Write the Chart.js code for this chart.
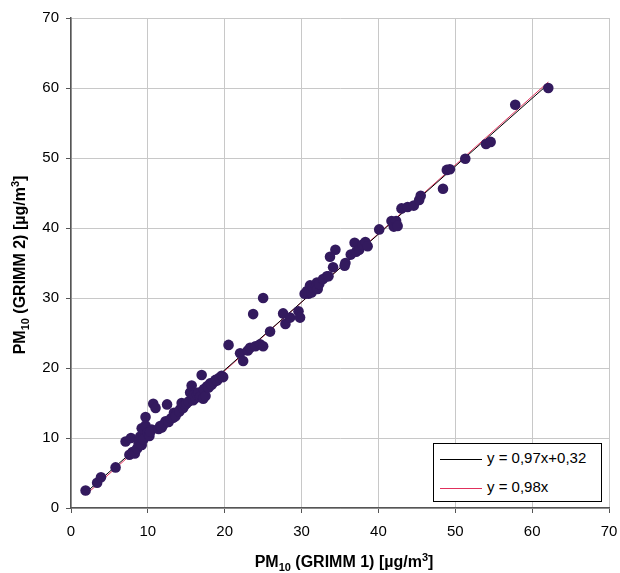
<!DOCTYPE html>
<html>
<head>
<meta charset="utf-8">
<script src="https://cdn.jsdelivr.net/npm/chart.js@4/dist/chart.umd.min.js"></script>
<style>
  body { margin: 0; background: #fff; }
  .wrap { position: relative; width: 620px; height: 573px; }
  .legend {
    position: absolute; left: 433px; top: 443px; width: 167px; height: 57px;
    border: 1px solid #000; background: #fff;
    font-family: 'Liberation Sans', Arial, sans-serif; font-size: 15px; color: #000;
  }
  .legend .item { position: absolute; left: 6px; height: 18px; line-height: 18px; white-space: nowrap; }
  .legend .swatch { display: inline-block; width: 42px; height: 0; vertical-align: middle; margin-right: 5px; }
</style>
</head>
<body>
<div class="wrap">
  <canvas id="grafico" width="620" height="573"></canvas>
  <div class="legend" id="legenda"></div>
</div>
<script>
  // GRIMM 1 (x) vs GRIMM 2 (y), PM10 in µg/m3
  const grimm1 = [1.9,3.4,3.9,5.8,7.1,7.8,7.6,8.0,8.3,8.6,8.8,9.2,9.0,9.4,9.2,9.7,9.7,10.0,10.2,10.5,
    10.3,10.7,11.0,11.4,11.6,11.8,12.3,12.0,12.5,12.7,13.0,13.3,13.4,13.8,13.6,14.2,14.4,14.1,14.6,14.8,
    15.0,15.3,15.5,15.7,15.9,16.2,16.0,16.4,16.6,16.8,17.0,17.2,17.3,17.5,17.7,17.9,18.1,18.3,18.6,18.8,
    19.0,19.3,19.6,19.8,20.5,22.0,22.4,23.0,23.3,23.7,24.0,24.6,25.0,25.0,25.9,27.6,27.9,28.5,29.6,29.8,
    30.4,30.7,30.9,31.1,31.3,31.5,32.0,31.9,32.1,32.3,32.8,33.3,33.5,34.1,34.4,33.7,35.7,35.6,36.4,36.9,
    37.1,37.5,37.9,38.3,38.6,40.1,41.7,42.0,42.3,42.5,43.0,43.8,44.6,45.3,45.5,48.4,48.9,49.3,51.3,54.0,
    54.6,57.8,62.1]
  const grimm2 = [2.5,3.6,4.4,5.8,9.5,10.0,7.6,8.0,7.8,8.5,9.2,9.0,10.2,9.8,11.4,11.8,13.0,10.8,10.3,11.2,
    10.9,14.9,14.3,11.3,11.7,11.5,12.4,11.9,14.8,12.3,12.8,12.9,13.6,13.6,13.1,14.1,15.0,13.8,14.3,14.7,
    14.9,15.2,16.5,17.5,15.4,15.7,16.1,16.2,16.5,15.9,19.0,15.6,17.0,16.0,17.4,17.2,17.8,17.6,18.0,18.3,
    18.2,18.6,18.9,18.7,23.3,22.1,21.0,22.5,22.9,27.7,23.1,23.4,30.0,23.1,25.2,27.8,26.3,27.2,28.1,27.2,
    30.6,31.0,30.6,31.8,30.8,31.5,32.2,31.6,31.3,32.0,32.7,33.1,33.1,34.4,36.9,35.9,35.0,34.6,36.2,37.9,
    36.6,36.9,37.6,38.0,37.4,39.8,41.0,40.2,41.0,40.3,42.8,43.0,43.2,44.0,44.6,45.6,48.3,48.4,49.9,52.0,
    52.3,57.6,60.0]

  // linhas de tendência
  const linhaX = [1.9, 62.1]
  const ajusteA = 0.97, ajusteB = 0.32
  const origemA = 0.98
  const rotulos = ['y = 0,97x+0,32', 'y = 0,98x']
  const corLinhas = ['#000000', '#e0305c']
  const ticksEixo = [0,10,20,30,40,50,60,70]
  // títulos: [texto, tipo] -> n normal, sub subscrito, sup sobrescrito
  const tituloX = [['PM','n'],['10','sub'],[' (GRIMM 1) [µg/m','n'],['3','sup'],[']','n']]
  const tituloY = [['PM','n'],['10','sub'],[' (GRIMM 2) [µg/m','n'],['3','sup'],[']','n']]

  const pontos = grimm1.map((v, i) => ({x: v, y: grimm2[i]}))
  const linha1 = linhaX.map(v => ({x: v, y: ajusteA * v + ajusteB}))
  const linha2 = linhaX.map(v => ({x: v, y: origemA * v}))

  const FONTE = "'Liberation Sans', Arial, sans-serif"
  Chart.defaults.font.family = FONTE
  Chart.defaults.color = '#000'

  const eixo = (pad, fit) => ({
    type: 'linear', min: 0, max: 70,
    afterBuildTicks: s => { s.ticks = ticksEixo.map(v => ({value: v})) },
    afterFit: fit,
    ticks: { font: {size: 15}, color: '#000', padding: pad },
    grid: { color: '#c8c8c8', lineWidth: 1, tickLength: 5, tickColor: '#555' },
    border: { color: '#555', width: 1.5 }
  })

  // desenha texto com sub/sobrescrito
  function desenhaTitulo(ctx, partes, cx, cy, rot) {
    const medir = p => {
      ctx.font = 'bold ' + (p[1] === 'n' ? 16 : 11) + 'px ' + FONTE
      return ctx.measureText(p[0]).width
    }
    const total = partes.reduce((a, p) => a + medir(p), 0)
    ctx.save()
    ctx.translate(cx, cy)
    ctx.rotate(rot)
    ctx.fillStyle = '#000'
    ctx.textBaseline = 'alphabetic'
    let x = -total / 2
    partes.forEach(p => {
      const w = medir(p)
      const dy = p[1] === 'sub' ? 4 : (p[1] === 'sup' ? -6 : 0)
      ctx.fillText(p[0], x, 5 + dy)
      x += w
    })
    ctx.restore()
  }

  const titulos = {
    id: 'titulos',
    afterDraw(chart) {
      const a = chart.chartArea
      desenhaTitulo(chart.ctx, tituloX, (a.left + a.right) / 2 + 4, 562, 0)
      desenhaTitulo(chart.ctx, tituloY, 20, (a.top + a.bottom) / 2 + 2, -Math.PI / 2)
    }
  }

  new Chart(document.getElementById('grafico'), {
    type: 'scatter',
    data: {
      datasets: [
        { label: 'dados', data: pontos, backgroundColor: '#331a5e', borderWidth: 0, pointRadius: 5.3, order: 0 },
        { label: rotulos[0], data: linha1, type: 'line', showLine: true, borderColor: corLinhas[0], borderWidth: 1, pointRadius: 0, order: 1 },
        { label: rotulos[1], data: linha2, type: 'line', showLine: true, borderColor: corLinhas[1], borderWidth: 1, pointRadius: 0, order: 2 }
      ]
    },
    options: {
      responsive: false,
      animation: false,
      layout: { padding: { top: 18, right: 0, left: 0, bottom: 0 } },
      plugins: { legend: { display: false }, tooltip: { enabled: false } },
      scales: {
        x: eixo(10, s => { s.height = 65; s.paddingRight = 11; s.paddingLeft = 0 }),
        y: eixo(7, s => { s.width = 71 })
      }
    },
    plugins: [titulos]
  })

  // legenda
  const legenda = document.getElementById('legenda')
  rotulos.forEach((r, i) => {
    const d = document.createElement('div')
    d.className = 'item'
    d.style.top = (5 + i * 29) + 'px'
    d.innerHTML = '<span class="swatch" style="border-top:1px solid ' + corLinhas[i] + '"></span>' + r
    legenda.appendChild(d)
  })
</script>
</body>
</html>
